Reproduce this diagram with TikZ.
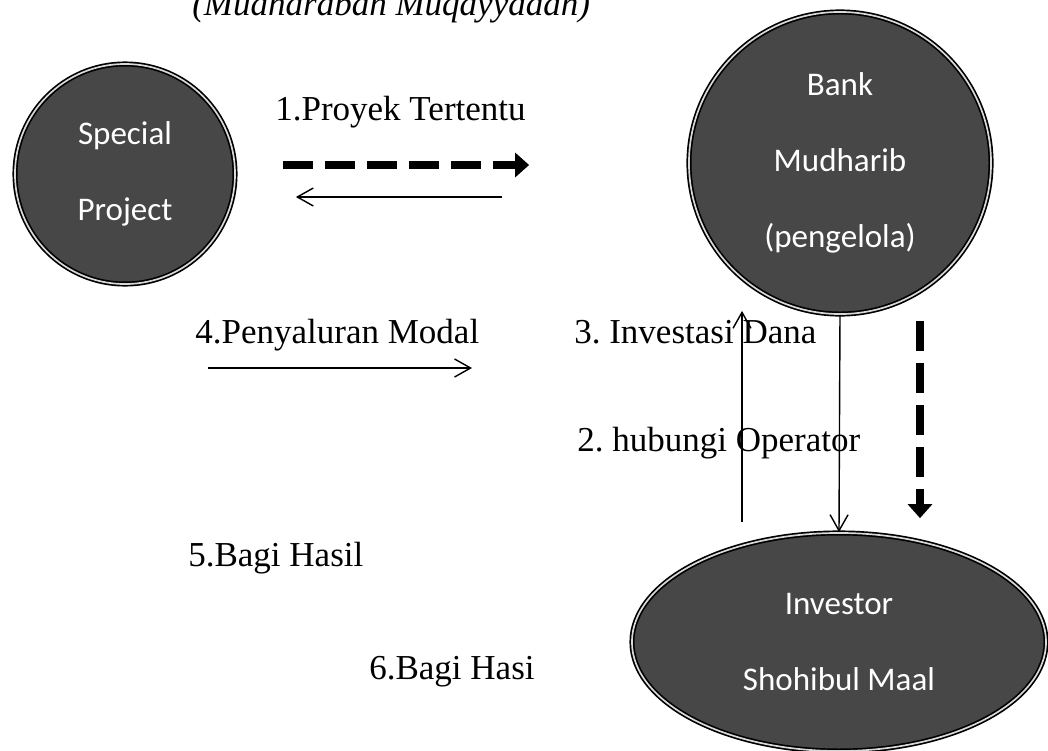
\documentclass[tikz,border=0pt]{standalone}
\usepackage{fontspec}
\setmainfont{Liberation Serif}
\newfontfamily\carlito{Carlito}
\usetikzlibrary{shapes.geometric,arrows.meta}
\frenchspacing

\begin{document}
\begin{tikzpicture}[x=0.025cm, y=-0.025cm,
  lbl/.style={anchor=base west, inner sep=0pt, font=\fontsize{24.9}{30}\selectfont},
  bubble/.style={draw=black, line width=1.2pt, double=white!85!black, double distance=1.2pt,
    fill=black!72, text=white, align=center, inner sep=0pt,
    font=\carlito\fontsize{23.5}{54}\selectfont},
  thin arrow/.style={line width=1pt, -{Straight Barb[length=0.4cm,width=0.45cm]}},
  fat arrow/.style={line width=5pt, dash pattern=on 0.75cm off 0.3cm,
    -{Triangle[length=0.35cm,width=0.6cm]}}]
  \useasboundingbox (0,0) rectangle (1048,751);
  \node[bubble, circle, minimum size=5.5cm] (special) at (125,174) {Special\\Project};
  \node[bubble, circle, minimum size=7.55cm] (bank) at (840,163) {Bank\\Mudharib\\(pengelola)};
  \node[bubble, ellipse, minimum width=10.35cm, minimum height=5.45cm] (investor) at (839,642)
    {Investor\\Shohibul Maal};
  \node[lbl] (title) at (192,15) {\itshape (Mudharabah Muqayyadah)};
  \node[lbl] (proyek) at (275,120) {1.Proyek Tertentu};
  \node[lbl] (modal) at (195,343) {4.Penyaluran Modal};
  \node[lbl] (dana) at (574,343) {3. Investasi Dana};
  \node[lbl] (operator) at (577,451) {2. hubungi Operator};
  \node[lbl] (hasil5) at (188,566) {5.Bagi Hasil};
  \node[lbl] (hasil6) at (369,679) {6.Bagi Hasi};
  \coordinate (m1) at (208,368);
  \coordinate (m2) at (472,368);
  \draw[fat arrow] ([shift={(47,-9)}]special.east) -- ([shift={(-159,2)}]bank.west);
  \draw[thin arrow] ([shift={(-186,34)}]bank.west) -- ([shift={(60,23)}]special.east);
  \draw[thin arrow] (m1) -- (m2);
  \draw[thin arrow] ([shift={(-97,-10)}]investor.north) -- ([shift={(-98,-4)}]bank.south);
  \draw[thin arrow] (bank.south) -- (investor.north);
  \draw[fat arrow] ([shift={(80,6)}]bank.south) -- ([shift={(81,-14)}]investor.north);
\end{tikzpicture}
\end{document}
